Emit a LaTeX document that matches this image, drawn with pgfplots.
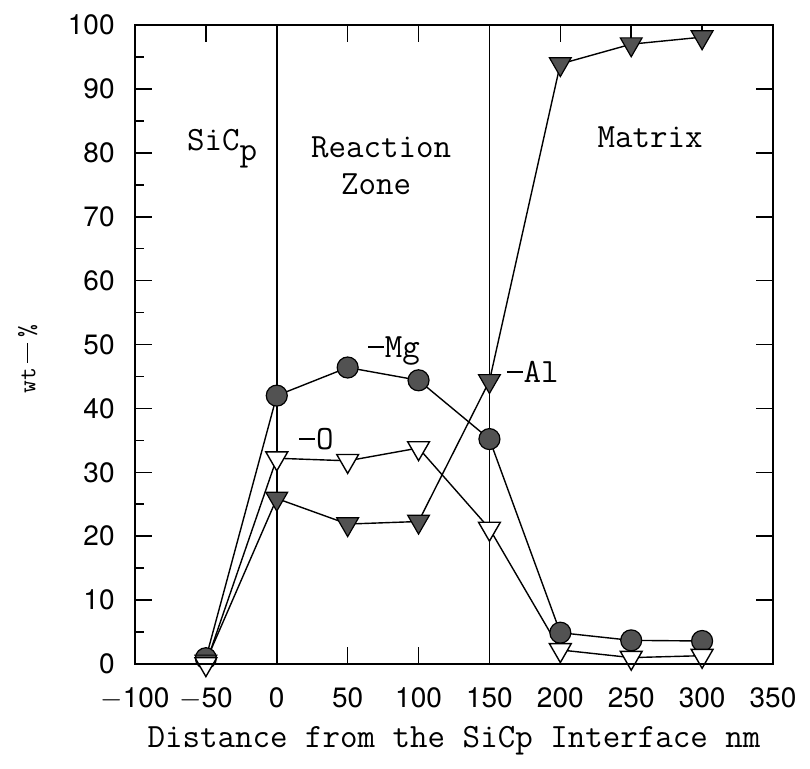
\documentclass[border=0pt]{standalone}
\usepackage{pgfplots}
\usepackage{pgfplotstable}
\pgfplotsset{compat=1.18}
\usepackage{fontspec}
\newfontfamily\tickfont{TeX Gyre Heros}
\newcommand\lbl{\ttfamily\fontsize{17}{19}\selectfont}
\newcommand\dash{\makebox[0.525em][c]{\rule[0.29em]{0.46em}{0.05em}}}
\definecolor{markgray}{gray}{0.32}

% Mg profile (filled circles)
\pgfplotstableread{
x y
-50 0.9
0 42.0
50 46.4
100 44.4
150 35.2
200 4.9
250 3.7
300 3.6
}\mgdata
% Al profile (filled triangles)
\pgfplotstableread{
x y
-50 0.4
0 25.9
50 21.9
100 22.3
150 44.3
200 93.9
250 97.0
300 98.1
}\aldata
% O profile (open triangles)
\pgfplotstableread{
x y
-50 0.0
0 32.2
50 31.8
100 33.8
150 21.2
200 2.2
250 1.0
300 1.3
}\odata

\begin{document}
\begin{tikzpicture}
\path[use as bounding box] (0,0) rectangle (405pt,384pt);
\begin{axis}[
  at={(67.5pt,52pt)}, anchor=south west,
  scale only axis, width=319pt, height=319.5pt,
  xmin=-100, xmax=350, ymin=0, ymax=100,
  xtick={-100,-50,0,50,100,150,200,250,300,350},
  xticklabels={$-$100,$-$50,0,50,100,150,200,250,300,350},
  ytick={0,10,20,30,40,50,60,70,80,90,100},
  yticklabels={0,10,20,30,40,50,60,70,80,90,100},
  minor y tick num=1,
  ytick pos=left, xtick pos=both,
  tick align=inside,
  major tick length=8.5pt, minor tick length=4.5pt,
  every tick/.style={black, line width=0.8pt},
  axis line style={line width=1pt},
  tick label style={font=\tickfont\fontsize{14}{16}\selectfont, inner sep=0pt},
  xticklabel style={anchor=north, yshift=-11.5pt},
  yticklabel style={anchor=east, xshift=-10pt},
  xlabel={Distance from the SiCp Interface nm},
  ylabel={\fontsize{12.5}{14}\selectfont wt\hspace{2.5pt}\rule[0.3em]{10pt}{0.7pt}\hspace{2.5pt}\%},
  xlabel style={at={(axis description cs:0.5,-0.12)}, anchor=center, font=\lbl, inner sep=0pt},
  ylabel style={at={(axis description cs:-0.168,0.477)}, anchor=center, font=\lbl, inner sep=0pt},
  clip=false,
]
% zone boundaries
\addplot[black, line width=0.8pt, no marks] coordinates {(0,0) (0,100)};
\addplot[black, line width=0.8pt, no marks] coordinates {(150,0) (150,100)};

% connecting lines
\addplot[black, line width=0.7pt, no marks] table[x=x,y=y] {\mgdata};
\addplot[black, line width=0.7pt, no marks] table[x=x,y=y] {\aldata};
\addplot[black, line width=0.7pt, no marks] table[x=x,y=y] {\odata};

% markers
\addplot[only marks, mark=*, mark size=5.25pt,
  mark options={fill=markgray, draw=black, line width=0.6pt}] table[x=x,y=y] {\mgdata};
\addplot[only marks, mark=triangle*, mark size=6.3pt,
  mark options={rotate=180, fill=markgray, draw=black, line width=0.6pt}] table[x=x,y=y] {\aldata};
\addplot[only marks, mark=triangle*, mark size=6.3pt,
  mark options={rotate=180, fill=white, draw=black, line width=0.7pt}] table[x=x,y=y] {\odata};

% region names and series labels
\node[font=\lbl, anchor=base west] at (axis cs:-68.3,80.4) {SiC\raisebox{-5pt}{p}};
\node[font=\lbl, anchor=base] at (axis cs:73.6,79.3) {Reaction};
\node[font=\lbl, anchor=base] at (axis cs:70.1,73.4) {Zone};
\node[font=\lbl, anchor=base] at (axis cs:263.4,80.9) {Matrix};
\node[font=\lbl, anchor=base west, inner sep=0pt] at (axis cs:63.4,47.9) {\dash Mg};
\node[font=\lbl, anchor=base west, inner sep=0pt] at (axis cs:14.8,33.5) {\dash O};
\node[font=\lbl, anchor=base west, inner sep=0pt] at (axis cs:161.3,44.0) {\dash Al};
\end{axis}
% right-hand ticks carry no minor ticks
\begin{axis}[
  at={(67.5pt,52pt)}, anchor=south west,
  scale only axis, width=319pt, height=319.5pt,
  xmin=-100, xmax=350, ymin=0, ymax=100,
  xtick=\empty,
  ytick={0,10,20,30,40,50,60,70,80,90,100},
  yticklabels={},
  ytick pos=right, tick align=inside,
  major tick length=8.5pt,
  every tick/.style={black, line width=0.8pt},
  axis line style={line width=1pt},
]
\end{axis}
\end{tikzpicture}
\end{document}
